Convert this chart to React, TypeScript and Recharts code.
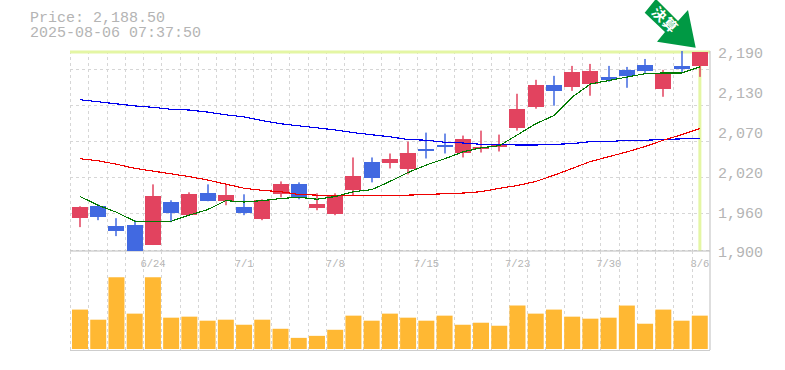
import { Bar, CartesianGrid, ComposedChart, Line, ReferenceLine, XAxis, YAxis } from "recharts";

const dates = [
  "6/18", "6/19", "6/20", "6/23", "6/24", "6/25", "6/26", "6/27", "6/30", "7/1", "7/2", "7/3",
  "7/4", "7/7", "7/8", "7/9", "7/10", "7/11", "7/14", "7/15", "7/16", "7/17", "7/18", "7/22",
  "7/23", "7/24", "7/25", "7/28", "7/29", "7/30", "7/31", "8/1", "8/4", "8/5", "8/6",
];
const opens = [
  1946.4, 1963.8, 1934.8, 1936.3, 1907.3, 1969.6, 1950.8, 1982.7, 1971.1, 1962.4, 1945, 1981.2,
  1995.7, 1960.9, 1952.2, 1987, 2029, 2026.2, 2017.5, 2046.5, 2053.7, 2040.7, 2047.9, 2050.8,
  2078.4, 2108.8, 2140.7, 2137.8, 2142.2, 2152.3, 2162.5, 2169.7, 2134.9, 2168.3, 2168.3,
];
const highs = [
  1963.8, 1966.7, 1946.4, 1943.5, 1995.7, 1972.5, 1984.1, 1995.7, 1995.7, 1981.2, 1974, 2000,
  1998.6, 1982.7, 1982.7, 2034.9, 2034.9, 2040.7, 2058, 2071.1, 2069.7, 2066.8, 2074, 2068.2,
  2127.7, 2148, 2153.8, 2168.3, 2171.2, 2168.3, 2166.8, 2178.4, 2162.5, 2190, 2188.5,
];
const lows = [
  1933.4, 1943.5, 1920.3, 1898.6, 1907.3, 1940.6, 1950.8, 1971.1, 1965.3, 1950.8, 1943.5, 1976.9,
  1974, 1958, 1950.8, 1979.8, 1998.6, 2018.9, 2010.2, 2033.4, 2040.7, 2034.9, 2042.1, 2043.6,
  2074, 2105.9, 2110.3, 2132, 2124.8, 2145.1, 2136.4, 2158.1, 2123.3, 2159.6, 2152.3,
];
const closes = [
  1962.4, 1947.9, 1927.6, 1898.6, 1978.3, 1953.7, 1981.2, 1971.1, 1979.8, 1953.7, 1972.5, 1995.7,
  1976.9, 1966.7, 1979.8, 2007.3, 2004.4, 2032, 2042.1, 2043.6, 2049.4, 2062.4, 2050.8, 2053.7,
  2105.9, 2140.7, 2132, 2159.6, 2161, 2148, 2153.8, 2161, 2158.1, 2163.9, 2188.5,
];
const maShort = [
  1978, 1965, 1955, 1942, 1942, 1942, 1951, 1959, 1972, 1970, 1972, 1975,
  1977, 1974, 1978, 1985, 1988, 2000, 2013, 2024, 2033, 2043, 2049, 2052,
  2068, 2084, 2096, 2123, 2142, 2147, 2152, 2157, 2158, 2158, 2167,
];
const maMid = [
  2033, 2030, 2025, 2019, 2015, 2011, 2007, 2002, 1996, 1990, 1987, 1985,
  1981, 1980, 1980, 1980, 1980, 1980, 1980, 1981, 1982, 1983, 1985, 1990,
  1994, 2000, 2009, 2019, 2029, 2036, 2043, 2051, 2060, 2068, 2077,
];
const maLong = [
  2119, 2116, 2113, 2110, 2108, 2105, 2104, 2101, 2097, 2094, 2088.5, 2084,
  2081, 2078, 2075, 2071, 2068, 2065, 2061, 2060, 2057, 2056, 2054, 2054,
  2053, 2053, 2054, 2055, 2058, 2058, 2060, 2060, 2061, 2062, 2062,
];
const volumes = [
  39, 29, 71, 35, 71, 31, 32, 28, 29, 24, 29, 20,
  11, 13, 19, 33, 28, 35, 31, 28, 33, 24, 26, 23,
  43, 35, 39, 32, 30, 31, 43, 25, 39, 28, 33,
];
const dateTicks = ["6/24", "7/1", "7/8", "7/15", "7/23", "7/30", "8/6"];
const priceTicks = [1900, 1958, 2016, 2074, 2132, 2190];
const lastPrice = 2188.5;

const W = 785;
const PLOT_L = 70;
const PLOT_R = 710;
const BAND = (PLOT_R - PLOT_L) / dates.length;
const MONO = "'Liberation Mono', 'DejaVu Sans Mono', monospace";
const GRAY = "#bdbdbd";
const TEXT = "#b4b4b4";
const GRID = "#d6d6d6";
const UP = "#e2435f";
const DOWN = "#4169e1";
const LIME = "#e4f6a4";
const LINE_W = 1.15;
const xPad = { left: 1, right: 1 };
const priceMargin = { top: 51, right: 75, bottom: 19, left: PLOT_L };

const rows = dates.map((date, i) => ({
  date,
  open: opens[i],
  close: closes[i],
  range: [lows[i], highs[i]],
  maShort: maShort[i],
  maMid: maMid[i],
  maLong: maLong[i],
  volume: [0, volumes[i]],
}));

const vLines = () => dates.map((_, i) => Math.round(PLOT_L + i * BAND));
const hValues = Array.from({ length: 11 }, (_, i) => 1900 + (i * 290) / 11);

function Candle(props: any) {
  const { x, y, width, height, payload } = props;
  const high = payload.range[1];
  const low = payload.range[0];
  const pxPerUnit = high === low ? 0 : height / (high - low);
  const toY = (v: number) => y + (high - v) * pxPerUnit;
  const top = toY(Math.max(payload.open, payload.close));
  const bottom = toY(Math.min(payload.open, payload.close));
  const color = payload.close >= payload.open ? UP : DOWN;
  const cx = Math.round(x + width / 2);
  return (
    <g>
      <rect x={cx - 0.75} y={y} width={1.5} height={height} fill={color} />
      <rect x={cx - 8} y={top} width={16} height={Math.max(bottom - top, 1)} fill={color} shapeRendering="crispEdges" />
    </g>
  );
}

export default function App() {
  return (
    <div style={{ position: "absolute", left: 0, top: 0, width: W, height: 370, fontFamily: MONO }}>
      <div style={{ position: "absolute", left: 30, top: 11, color: TEXT, fontSize: 15, lineHeight: "15px", whiteSpace: "pre" }}>
        {"Price: 2,188.50\n2025-08-06 07:37:50"}
      </div>

      <div style={{ position: "absolute", left: 0, top: 0 }}>
        <ComposedChart width={W} height={270} data={rows} margin={{ ...priceMargin, right: 0, bottom: 0 }} barCategoryGap={0}>
          <CartesianGrid
            stroke={GRID}
            strokeDasharray="3 3"
            shapeRendering="crispEdges"
            verticalCoordinatesGenerator={vLines}
            horizontalValues={hValues}
          />
          <XAxis
            dataKey="date"
            interval={0}
            ticks={dateTicks}
            height={19}
            padding={xPad}
            tickLine={false}
            stroke={GRAY}
            tick={{ fill: TEXT, fontSize: 10.5, fontFamily: MONO }}
            tickMargin={3}
          />
          <YAxis
            orientation="right"
            width={75}
            domain={[1900, 2190]}
            ticks={priceTicks}
            tickFormatter={(v: number) => (Math.round(v / 10) * 10).toLocaleString("en-US")}
            tickLine={false}
            stroke={GRAY}
            tick={{ fill: TEXT, fontSize: 15, fontFamily: MONO, dy: 2 }}
            tickMargin={2}
          />
          {/* invisible series: the axes of this layer need one to scale against */}
          <Bar dataKey="range" fill="none" isAnimationActive={false} />
          <ReferenceLine y={lastPrice} stroke={LIME} strokeWidth={3} />
          <ReferenceLine x="8/6" stroke={LIME} strokeWidth={3} />
        </ComposedChart>
      </div>

      {/* second layer so the lime last-price lines stay under the candles */}
      <div style={{ position: "absolute", left: 0, top: 0 }}>
        <ComposedChart width={W} height={270} data={rows} margin={priceMargin} barCategoryGap={0}>
          <XAxis dataKey="date" hide padding={xPad} />
          <YAxis hide domain={[1900, 2190]} />
          <Line dataKey="maLong" stroke="#0000ee" strokeWidth={LINE_W} shapeRendering="crispEdges" dot={false} isAnimationActive={false} />
          <Line dataKey="maMid" stroke="#ee0000" strokeWidth={LINE_W} shapeRendering="crispEdges" dot={false} isAnimationActive={false} />
          <Line dataKey="maShort" stroke="#007a00" strokeWidth={LINE_W} shapeRendering="crispEdges" dot={false} isAnimationActive={false} />
          <Bar dataKey="range" shape={Candle} isAnimationActive={false} />
        </ComposedChart>
      </div>

      <div style={{ position: "absolute", left: 0, top: 251 }}>
        <ComposedChart width={W} height={100} data={rows} margin={{ top: 0, right: 75, bottom: 0, left: PLOT_L }} barCategoryGap={0}>
          <CartesianGrid stroke={GRID} strokeDasharray="3 3" shapeRendering="crispEdges" verticalCoordinatesGenerator={vLines} horizontal={false} />
          <XAxis dataKey="date" hide padding={xPad} />
          <YAxis hide domain={[-2, 97]} />
          <ReferenceLine y={-2} stroke={GRAY} strokeWidth={1.5} />
          <Bar dataKey="volume" fill="#ffb833" barSize={16} isAnimationActive={false} />
        </ComposedChart>
      </div>

      <svg width={W} height={370} style={{ position: "absolute", left: 0, top: 0, pointerEvents: "none" }}>
        <line x1={PLOT_R} x2={PLOT_R} y1={251} y2={350} stroke={GRAY} />
        <polygon points="644.7,12.7 655,0 657,0 678,21 688,10 695.7,47.7 657,41.7 665,32" fill="#009944" />
        <g transform="translate(665,20) rotate(45)">
          <text textAnchor="middle" y={5} fill="#ffffff" fontSize={14} fontWeight={700} fontFamily="'Noto Sans CJK JP'" letterSpacing={1}>
            決算
          </text>
        </g>
      </svg>
    </div>
  );
}
